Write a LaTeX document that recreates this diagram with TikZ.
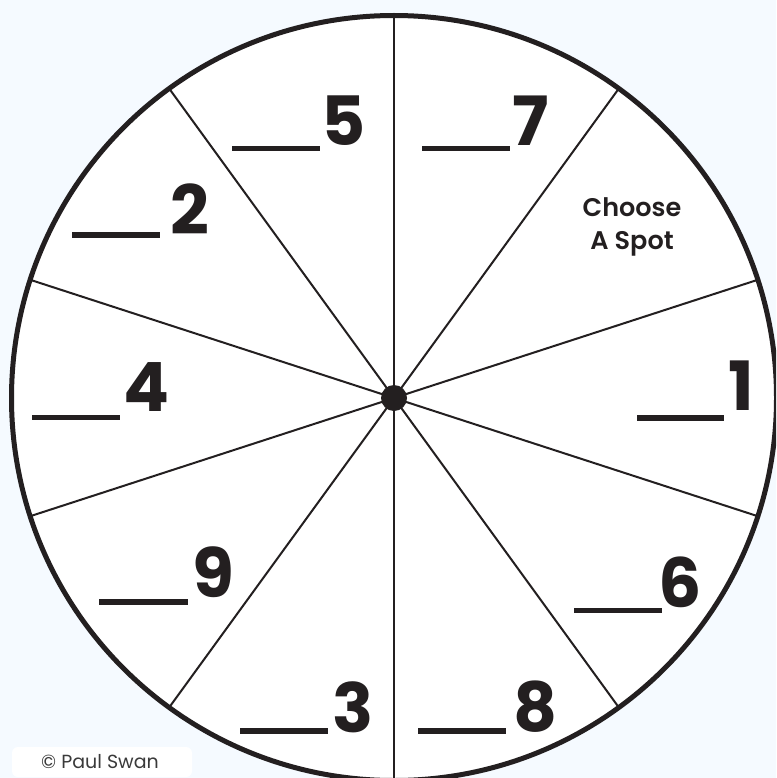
\documentclass[tikz,border=0pt]{standalone}
\usepackage{fontspec}
\setmainfont{Poppins}
\newfontfamily\semifont{Poppins SemiBold}
\definecolor{bg}{HTML}{F5FAFF}
\definecolor{ink}{HTML}{231F20}
\definecolor{copy}{HTML}{3A3A3A}
\begin{document}
\begin{tikzpicture}[x=1pt,y=-1pt,
  digit/.style={inner sep=0pt, text=ink, font=\fontsize{68}{68}\selectfont\bfseries},
  blank/.style={line width=5.5pt, draw=ink},
  spoke/.style={line width=2pt, draw=ink},
  small/.style={inner sep=0pt, text=ink, font=\fontsize{25.5}{25.5}\semifont, anchor=base}]
\useasboundingbox (0,0) rectangle (776,778);
\clip (0,0) rectangle (776,778);
\fill[bg] (0,0) rectangle (776,778);
\coordinate (c) at (394,398);
\fill[white] (c) circle[radius=383pt];
\foreach \a in {18,54,...,342} \draw[spoke] (c) -- ++(\a:383pt);
\draw[ink, line width=5pt] (c) circle[radius=382.5pt];
\fill[ink] (c) circle[radius=13pt];
% blanks
\draw[blank] (232,148.5) -- (320,148.5);
\draw[blank] (422,148.5) -- (510,148.5);
\draw[blank] (72,235) -- (160,235);
\draw[blank] (32,417.5) -- (120,417.5);
\draw[blank] (637,418) -- (724,418);
\draw[blank] (99,602) -- (188,602);
\draw[blank] (574,610.5) -- (662,610.5);
\draw[blank] (240,731) -- (328,731);
\draw[blank] (418,731) -- (506,731);
% digits
\node[digit] (d5) at (344,120.5) {5};
\node[digit] (d7) at (530.5,120.5) {7};
\node[digit] (d2) at (190,209.5) {2};
\node[digit] (d4) at (146.5,387.5) {4};
\node[digit] (d1) at (741,385.5) {1};
\node[digit] (d9) at (213,572) {9};
\node[digit] (d6) at (680,582.5) {6};
\node[digit] (d3) at (353,707) {3};
\node[digit] (d8) at (536,707) {8};
% choose a spot
\node[small] (ch) at (632,216.5) {Choose};
\node[small] (sp) at (632,249) {A Spot};
% copyright
\node[fill=white, rounded corners=6pt, minimum width=180pt, minimum height=30pt, inner sep=0pt] (box) at (102,762) {};
\node[text=copy, font=\fontsize{19}{19}\selectfont, inner sep=0pt] (cr) at (100,762) {© Paul Swan};
\end{tikzpicture}
\end{document}
